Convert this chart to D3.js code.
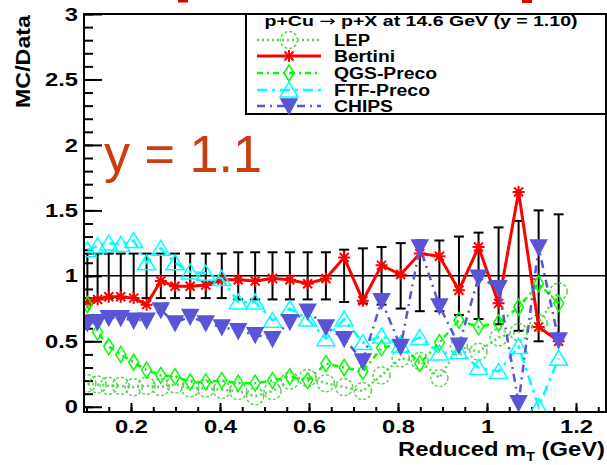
<!DOCTYPE html>
<html>
<head>
<meta charset="utf-8">
<script src="https://cdn.jsdelivr.net/npm/d3@7"></script>
<style>
  body { margin: 0; background: #fff; }
  text { font-family: 'Liberation Sans', Arial, sans-serif; font-weight: bold; }
</style>
</head>
<body>
<svg class="d3SVG"></svg>
<script>
// bin centres in reduced mT (GeV) and the MC/Data ratios
var mT = [0.102, 0.125, 0.150, 0.177, 0.206, 0.235, 0.267, 0.299, 0.333, 0.368, 0.404, 0.441, 0.479, 0.518, 0.557,
  0.597, 0.638, 0.679, 0.721, 0.763, 0.806, 0.849, 0.893, 0.937, 0.981, 1.026, 1.071, 1.116, 1.161]
var dataErr = [0.17, 0.17, 0.17, 0.17, 0.17, 0.17, 0.17, 0.17, 0.17, 0.17, 0.17, 0.18, 0.18, 0.18, 0.18,
  0.18, 0.18, 0.20, 0.21, 0.22, 0.25, 0.27, 0.27, 0.30, 0.33, 0.37, 0.42, 0.50, 0.47]
var lep = [0.18, 0.17, 0.16, 0.16, 0.15, 0.16, 0.15, 0.17, 0.14, 0.14, 0.13, 0.12, 0.08, 0.12, 0.20,
  0.22, 0.18, 0.15, 0.12, 0.24, 0.37, 0.35, 0.22, 0.46, 0.42, 0.53, 0.57, 0.64, 0.88]
var bertini = [0.80, 0.82, 0.84, 0.84, 0.83, 0.78, 0.96, 0.92, 0.92, 0.93, 0.97, 0.97, 0.96, 0.98, 0.97,
  0.94, 0.98, 1.14, 0.81, 1.08, 1.01, 1.17, 1.15, 0.89, 1.22, 0.79, 1.64, 0.61, 0.50]
var qgs = [0.78, 0.57, 0.46, 0.40, 0.34, 0.28, 0.24, 0.23, 0.19, 0.19, 0.20, 0.18, 0.18, 0.20, 0.23,
  0.20, 0.33, 0.30, 0.27, 0.45, 0.48, 0.33, 0.49, 0.66, 0.61, 0.64, 0.76, 0.94, 0.79]
var ftf = [1.20, 1.23, 1.25, 1.24, 1.27, 1.10, 1.21, 1.10, 1.03, 1.02, 0.98, 0.80, 0.80, 0.66, 0.75,
  0.67, 0.52, 0.67, 0.49, 0.54, 0.47, 0.53, 0.41, 0.42, 0.30, 0.27, 0.46, 0.00, 0.37]
var chips = [0.64, 0.65, 0.68, 0.68, 0.66, 0.66, 0.74, 0.64, 0.69, 0.64, 0.61, 0.58, 0.55, 0.52, 0.65,
  0.73, 0.61, 0.52, 0.35, 0.81, 0.46, 1.22, 0.77, 0.47, 0.99, 0.91, 0.03, 1.22, 0.51]

var seriesNames = ['LEP', 'Bertini', 'QGS-Preco', 'FTF-Preco', 'CHIPS']
var xTicks = [0.2, 0.4, 0.6, 0.8, 1, 1.2]
var yTicks = [0, 0.5, 1, 1.5, 2, 2.5, 3]

var width = 607
var height = 465
var frameL = 84, frameR = 606, frameT = 14, frameB = 412

var svg = d3.select('.d3SVG')
  .attr('width', width)
  .attr('height', height)

var xScale = d3.scaleLinear().domain([0.0944, 1.2674]).range([frameL, frameR])
var yScale = d3.scaleLinear().domain([-0.04, 3]).range([frameB, frameT])

// the old slide stretched every text sideways, so widen glyphs a bit
function widen(sel, k) {
  sel.each(function () {
    var w = this.getComputedTextLength()
    d3.select(this).attr('textLength', w * k).attr('lengthAdjust', 'spacingAndGlyphs')
  })
}

// red scraps of the slide title cut off at the top
svg.append('rect').attr('x', 178).attr('y', 0).attr('width', 10).attr('height', 2.5).style('fill', '#e00000')
svg.append('rect').attr('x', 522).attr('y', 0).attr('width', 10).attr('height', 3).style('fill', '#e00000')

// axes
var xMinor = d3.range(0.1, 1.26, 0.05)
svg.append('g')
  .attr('transform', 'translate(0,' + frameB + ')')
  .call(d3.axisBottom(xScale).tickValues(xMinor).tickSize(-5).tickSizeOuter(0).tickFormat(''))
  .call(g => g.select('.domain').remove())
var xAxisG = svg.append('g')
  .attr('transform', 'translate(0,' + frameB + ')')
  .call(d3.axisBottom(xScale).tickValues(xTicks).tickSize(-9).tickSizeOuter(0).tickPadding(8)
    .tickFormat(d3.format('~g')))
xAxisG.select('.domain').remove()

var yMinor = d3.range(0, 3.01, 0.1)
svg.append('g')
  .attr('transform', 'translate(' + frameL + ',0)')
  .call(d3.axisLeft(yScale).tickValues(yMinor).tickSize(-9).tickSizeOuter(0).tickFormat(''))
  .call(g => g.select('.domain').remove())
var yAxisG = svg.append('g')
  .attr('transform', 'translate(' + frameL + ',0)')
  .call(d3.axisLeft(yScale).tickValues(yTicks).tickSize(-18).tickSizeOuter(0).tickPadding(6)
    .tickFormat(d3.format('~g')))
yAxisG.select('.domain').remove()

svg.selectAll('.tick line').style('stroke', '#000').style('stroke-width', 2)
svg.selectAll('.tick text')
  .style('font-size', '19px')
  .style('font-family', "'Liberation Sans', Arial, sans-serif")
  .style('font-weight', 'bold')
  .style('fill', '#000')
widen(svg.selectAll('.tick text'), 1.25)

// axis titles
var xTitle = svg.append('text')
  .attr('x', 605)
  .attr('y', 456)
  .style('text-anchor', 'end')
  .style('font-size', '20px')
xTitle.append('tspan').text('Reduced m')
xTitle.append('tspan').attr('dy', 5).style('font-size', '12px').text('T')
xTitle.append('tspan').attr('dy', -5).text(' (GeV)')
xTitle.attr('textLength', 207).attr('lengthAdjust', 'spacingAndGlyphs')

svg.append('text')
  .attr('transform', 'translate(30,15) rotate(-90)')
  .style('text-anchor', 'end')
  .style('font-size', '21px')
  .text('MC/Data')
  .attr('textLength', 93)
  .attr('lengthAdjust', 'spacingAndGlyphs')

// plot area
svg.append('clipPath').attr('id', 'frameClip')
  .append('rect').attr('x', frameL).attr('y', frameT).attr('width', frameR - frameL).attr('height', frameB - frameT)
var plot = svg.append('g').attr('clip-path', 'url(#frameClip)')

plot.append('line')
  .attr('x1', frameL).attr('x2', frameR)
  .attr('y1', yScale(1)).attr('y2', yScale(1))
  .style('stroke', '#000').style('stroke-width', 1.5)

// data error bars around 1
var bars = plot.selectAll('.errBar').data(mT).enter().append('g').classed('errBar', true)
bars.append('line')
  .attr('x1', d => xScale(d)).attr('x2', d => xScale(d))
  .attr('y1', (d, i) => yScale(1 + dataErr[i])).attr('y2', (d, i) => yScale(1 - dataErr[i]))
bars.append('line')
  .attr('x1', d => xScale(d) - 5).attr('x2', d => xScale(d) + 5)
  .attr('y1', (d, i) => yScale(1 + dataErr[i])).attr('y2', (d, i) => yScale(1 + dataErr[i]))
bars.append('line')
  .attr('x1', d => xScale(d) - 5).attr('x2', d => xScale(d) + 5)
  .attr('y1', (d, i) => yScale(1 - dataErr[i])).attr('y2', (d, i) => yScale(1 - dataErr[i]))
bars.selectAll('line').style('stroke', '#000').style('stroke-width', 2)

var styles = [
  { values: lep, color: '#59d354', dash: '2,3', lw: 2.5, marker: 'circle' },
  { values: bertini, color: '#ff0000', dash: null, lw: 3, marker: 'star' },
  { values: qgs, color: '#00ff00', dash: '6,4,2,4', lw: 2.5, marker: 'diamond' },
  { values: ftf, color: '#00ffff', dash: '10,5,3,5', lw: 2.5, marker: 'triUp' },
  { values: chips, color: '#5954d8', dash: '8,5,2,5', lw: 2.5, marker: 'triDown' }
]

var markerPaths = {
  diamond: 'M0,-8L5,0L0,8L-5,0Z',
  triUp: 'M-9,7L9,7L0,-8Z',
  triDown: 'M-8,-7L8,-7L0,8Z',
  star: 'M-6,0H6M0,-6V6M-4.5,-4.5L4.5,4.5M-4.5,4.5L4.5,-4.5'
}

function drawMarker(g, s) {
  var m
  if (s.marker === 'circle') {
    m = g.append('circle').attr('r', 8.5)
      .style('fill', 'none').style('stroke', s.color).style('stroke-width', 1.5)
      .style('stroke-dasharray', '3,2')
  } else {
    m = g.append('path').attr('d', markerPaths[s.marker])
      .style('stroke', s.color).style('stroke-width', s.marker === 'star' ? 2 : 1.5)
      .style('fill', s.marker === 'triDown' ? s.color : 'none')
  }
  return m
}

styles.forEach((s) => {
  var pts = mT.map((m, i) => ({ x: m, y: s.values[i] }))
  var valueline = d3.line()
    .x(d => xScale(d.x))
    .y(d => yScale(d.y))
  plot.append('path')
    .datum(pts)
    .attr('d', valueline)
    .style('fill', 'none')
    .style('stroke', s.color)
    .style('stroke-width', s.lw)
    .style('stroke-dasharray', s.dash)
  pts.forEach((p) => {
    var g = plot.append('g').attr('transform', 'translate(' + xScale(p.x) + ',' + yScale(p.y) + ')')
    drawMarker(g, s)
  })
})

// frame
svg.append('rect')
  .attr('x', frameL).attr('y', frameT)
  .attr('width', frameR - frameL).attr('height', frameB - frameT)
  .style('fill', 'none').style('stroke', '#000').style('stroke-width', 2)

// legend
var legend = svg.append('g')
legend.append('rect')
  .attr('x', 246).attr('y', 14).attr('width', 360).attr('height', 100)
  .style('fill', '#fff').style('stroke', '#000').style('stroke-width', 2)
var head = legend.append('text')
  .attr('x', 421).attr('y', 26)
  .style('text-anchor', 'middle')
  .style('font-size', '15px')
head.append('tspan').text('p+Cu ')
head.append('tspan').style('font-family', "'DejaVu Sans', sans-serif").style('font-weight', 'normal').text('\u2192')
head.append('tspan').text(' p+X at 14.6 GeV (y = 1.10)')
head.attr('textLength', 313).attr('lengthAdjust', 'spacingAndGlyphs')

var rowY = [40, 56, 73, 90, 106]
var labelW = [36, 61, 103, 96, 59]
seriesNames.forEach((name, i) => {
  var s = styles[i]
  legend.append('line')
    .attr('x1', 257).attr('x2', 321)
    .attr('y1', rowY[i]).attr('y2', rowY[i])
    .style('stroke', s.color).style('stroke-width', s.lw)
    .style('stroke-dasharray', s.dash)
  drawMarker(legend.append('g').attr('transform', 'translate(289,' + rowY[i] + ')'), s)
  legend.append('text')
    .attr('x', 334).attr('y', rowY[i] + 6)
    .style('font-size', '16px')
    .text(name)
    .attr('textLength', labelW[i])
    .attr('lengthAdjust', 'spacingAndGlyphs')
})

// slide annotation
svg.append('text')
  .attr('x', 104).attr('y', 172)
  .style('font-weight', 'normal')
  .style('font-size', '51px')
  .style('fill', '#cc3c10')
  .text('y = 1.1')
  .attr('textLength', 158)
  .attr('lengthAdjust', 'spacingAndGlyphs')
</script>
</body>
</html>
